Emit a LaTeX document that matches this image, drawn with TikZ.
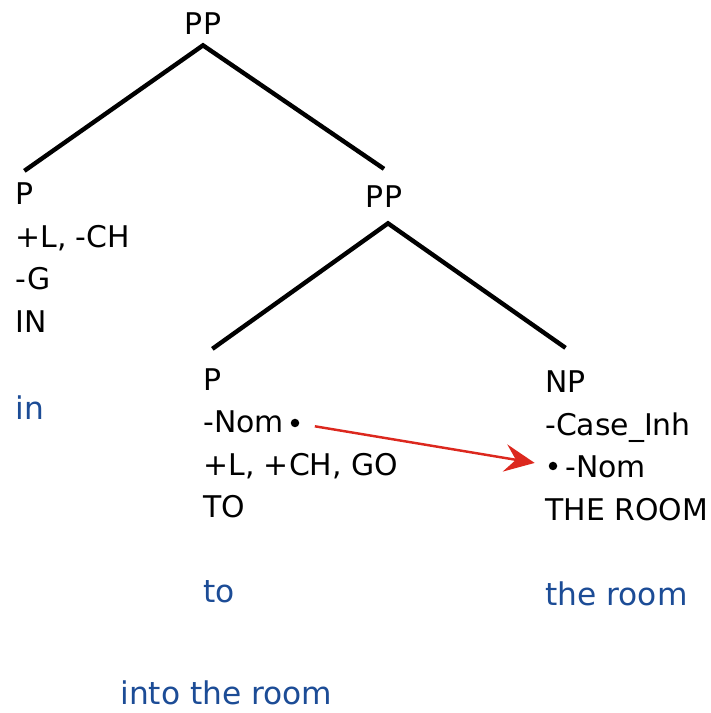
\documentclass[tikz,border=0pt]{standalone}
\usepackage{fontspec}
\setmainfont{DejaVu Sans}
\usetikzlibrary{positioning,arrows.meta}
\definecolor{glossblue}{RGB}{28,76,150}
\definecolor{agreered}{RGB}{220,40,30}

\begin{document}
\begin{tikzpicture}[
		every node/.style={font=\fontsize{17}{20}\selectfont, inner sep=0pt, anchor=base west},
		gloss/.style={text=glossblue, font=\fontsize{17.8}{20}\selectfont},
		branch/.style={line width=2.5pt},
		dot/.style={circle, fill=black, minimum size=0.17cm, anchor=center},
		agree/.style={-{Stealth[length=0.6cm,width=0.55cm,inset=0.22cm]}, agreered, line width=1.4pt, shorten <=0.31cm, shorten >=0.28cm}
	]
	\useasboundingbox (0,0) rectangle (14.2,14.26);

	% top of the tree
	\node[anchor=base] (PP0) at (4.06,13.56) {PP};
	\node[anchor=base] (PP1) at (7.68,10.1) {PP};
	\coordinate (top0) at ([yshift=-0.2cm]PP0.south);
	\coordinate (top1) at ([xshift=0.08cm,yshift=-0.3cm]PP1.south);

	% P in
	\node (P0) at (0.3,10.16) {P};
	\node (P0a) at (0.3,9.31) {+L, -CH};
	\node (P0b) at (0.3,8.46) {-G};
	\node (P0c) at (0.3,7.61) {IN};
	\node[gloss] (P0g) at (0.3,5.86) {in};

	% P to
	\node (P1) at (4.06,6.44) {P};
	\node (P1a) at (4.06,5.6) {-Nom};
	\node[dot] (src) at (5.9,5.8) {};
	\node (P1b) at (4.06,4.74) {+L, +CH, GO};
	\node (P1c) at (4.06,3.9) {TO};
	\node[gloss] (P1g) at (4.06,2.2) {to};

	% NP the room
	\node (NP) at (10.9,6.4) {NP};
	\node (NPa) at (10.9,5.54) {-Case\_Inh};
	\node[dot] (dst) at (11.06,4.94) {};
	\node (NPb) at (11.3,4.7) {-Nom};
	\node (NPc) at (10.9,3.84) {THE ROOM};
	\node[gloss] (NPg) at (10.9,2.14) {the room};

	\node[gloss] (PPg) at (2.4,0.16) {into the room};

	% branches
	\draw[branch] ([yshift=0.24cm]P0.north) -- (top0) -- ([yshift=0.34cm]PP1.north);
	\draw[branch] ([yshift=0.4cm]P1.north) -- (top1) -- ([yshift=0.46cm]NP.north);

	\draw[agree] (src) -- (dst);
\end{tikzpicture}
\end{document}
